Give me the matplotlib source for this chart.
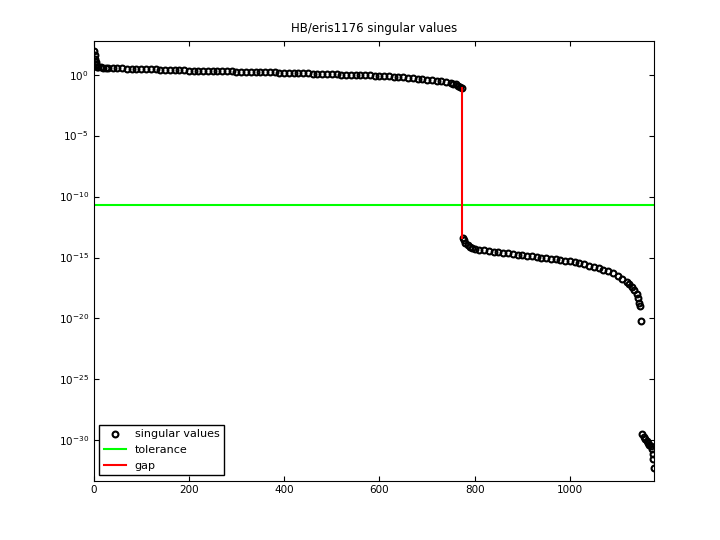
import numpy as np
import matplotlib
matplotlib.use("Agg")
import matplotlib.pyplot as plt

idx_a = [1,2,3,4,5,6,8,10,15,20,25,30,40,50,60,70,80,90,100,110,120,130,140,150,160,170,180,190,200,
         210,220,230,240,250,260,270,280,290,300,310,320,330,340,350,360,370,380,390,400,
         410,420,430,440,450,460,470,480,490,500,510,520,530,540,550,560,570,580,590,600,
         610,620,630,640,650,660,670,680,690,700,710,720,730,740,750,755,760,765,770,774]
log_a = [1.9,1.6,1.3,1.0,0.85,0.75,0.65,0.6,0.59,0.58,0.57,0.56,0.55,0.53,0.52,0.50,0.49,0.48,0.46,0.45,0.44,0.43,0.41,0.40,0.39,0.37,0.36,0.35,0.33,
         0.32,0.32,0.31,0.30,0.29,0.28,0.27,0.27,0.26,0.25,0.24,0.23,0.22,0.22,0.21,0.20,0.19,0.18,0.17,0.16,
         0.15,0.14,0.13,0.11,0.10,0.09,0.08,0.06,0.05,0.04,0.03,0.01,0.00,-0.01,-0.03,-0.04,-0.06,-0.07,-0.09,-0.10,
         -0.12,-0.15,-0.17,-0.20,-0.23,-0.26,-0.29,-0.32,-0.36,-0.40,-0.45,-0.50,-0.56,-0.62,-0.70,-0.75,-0.80,-0.90,-1.00,-1.1]
idx_b = [775,777,780,785,790,795,800,810,820,830,840,850,860,870,880,890,900,910,920,930,940,950,960,970,980,990,
         1000,1010,1020,1030,1040,1050,1060,1070,1080,1090,1100,1110,1120,1125,1130,1135,1140,1143,1146,1148,1150,
         1152,1155,1158,1161,1164,1167,1170,1172,1174,1175,1176]
log_b = [-13.4,-13.6,-13.8,-14.0,-14.1,-14.2,-14.3,-14.36,-14.41,-14.46,-14.51,-14.56,-14.61,-14.66,-14.71,-14.76,-14.80,-14.85,-14.90,-14.95,-15.00,-15.05,-15.10,-15.15,-15.20,-15.25,
         -15.32,-15.40,-15.48,-15.57,-15.66,-15.76,-15.87,-15.99,-16.13,-16.30,-16.50,-16.75,-17.05,-17.2,-17.40,-17.65,-18.0,-18.3,-18.7,-19.0,-20.2,
         -29.5,-29.7,-29.9,-30.05,-30.2,-30.35,-30.5,-30.7,-31.1,-31.5,-32.3]
tol_log = -10.7
gap_idx = [774, 774]
gap_log = [-13.4, -1.1]

idx = np.array(idx_a + idx_b)
sv = 10.0 ** np.array(log_a + log_b)

fig = plt.figure(figsize=(7.2, 5.4), dpi=100)
ax = fig.add_axes([0.13, 0.11, 0.778, 0.815])
ax.semilogy(idx, sv, 'o', mfc='none', mec='black', ms=4.2, mew=1.5, label='singular values')
ax.axhline(10.0 ** tol_log, color='#00ff00', lw=1.5, label='tolerance')
ax.semilogy(gap_idx, 10.0 ** np.array(gap_log), color='red', lw=1.5, label='gap')
ax.set_xlim(0, 1176)
ax.set_ylim(10 ** -33.3, 10 ** 2.8)
ax.set_yticks([10.0 ** k for k in [-30, -25, -20, -15, -10, -5, 0]])
ax.yaxis.set_minor_locator(matplotlib.ticker.NullLocator())
ax.set_xticks([0, 200, 400, 600, 800, 1000])
ax.tick_params(direction='in', top=True, right=True, labelsize=7.5)
ax.set_title('HB/eris1176 singular values', fontsize=8.5)
ax.legend(loc='lower left', fontsize=8, fancybox=False, edgecolor='black', framealpha=1)
fig.savefig('out.png')
